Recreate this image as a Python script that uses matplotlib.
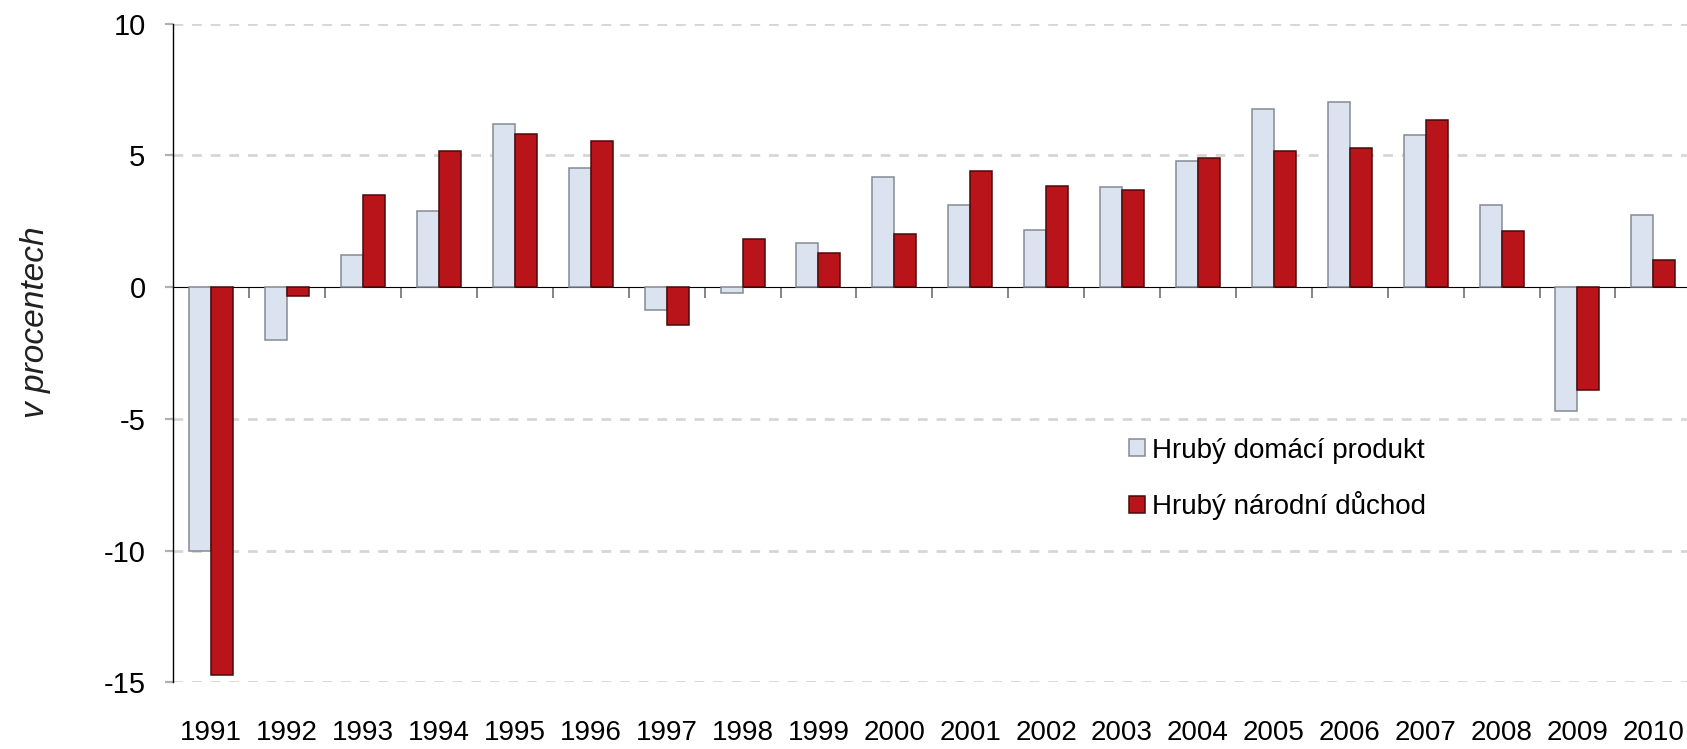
"""
HDP a HND, meziroční změny (v procentech).
"""

import matplotlib.pyplot as plt
import numpy as np

plt.rcParams['font.family'] = ['Liberation Sans', 'DejaVu Sans']

# Data.
years = [str(y) for y in range(1991, 2011)]
hdp = [-10.0, -2.0, 1.22, 2.90, 6.21, 4.53, -0.86, -0.23, 1.69, 4.19,
       3.11, 2.16, 3.79, 4.77, 6.77, 7.02, 5.76, 3.12, -4.71, 2.75]
hnd = [-14.71, -0.32, 3.48, 5.16, 5.82, 5.56, -1.43, 1.82, 1.28, 2.02,
       4.39, 3.85, 3.69, 4.92, 5.18, 5.28, 6.36, 2.12, -3.91, 1.04]
labels = ["Hrubý domácí produkt", "Hrubý národní důchod"]
yticks = [-15, -10, -5, 0, 5, 10]

W, H = 1687, 749

fig = plt.figure(figsize=(W / 100, H / 100), dpi=100)
ax = fig.add_axes([173.3 / W, 66.7 / H, 1518 / W, 658.6 / H])

x = np.arange(len(years))
bw = 0.29
ax.bar(x - bw / 2, hdp, bw, color="#dce3f0", edgecolor="#858a94",
       linewidth=1.1, label=labels[0], zorder=3)
ax.bar(x + bw / 2, hnd, bw, color="#b91419", edgecolor="#4a0a0a",
       linewidth=1.1, label=labels[1], zorder=3)

ax.set_xlim(-0.5, len(years) - 0.5)
ax.set_ylim(-15, 10)

# dashed gridlines (none at zero, the axis sits there)
ax.set_yticks(yticks)
ax.set_yticklabels([str(t) for t in yticks], fontsize=21)
ax.yaxis.grid(True, color="#d6d6d6", linewidth=2.0, linestyle=(0, (3.5, 3.2)), zorder=0)
ax.get_ygridlines()[yticks.index(0)].set_visible(False)
ax.tick_params(axis="y", direction="out", length=6, width=1.6, color="#b0b0b0", pad=14)

# year labels at the bottom, no marks
ax.set_xticks(x)
ax.set_xticklabels(years, fontsize=20)
ax.tick_params(axis="x", length=0, pad=27)

for s in ["top", "right", "bottom"]:
    ax.spines[s].set_visible(False)
ax.spines["left"].set_color("#000000")
ax.spines["left"].set_linewidth(1.0)

# zero axis with category boundary ticks
sec = ax.secondary_xaxis(0.6)
sec.spines["bottom"].set_color("#404040")
sec.spines["bottom"].set_linewidth(1.3)
sec.set_xticks(np.arange(0.5, len(years) - 1, 1.0))
sec.set_xticklabels([])
sec.xaxis.set_ticks_position("bottom")
sec.tick_params(axis="x", direction="out", length=8, width=1.2, color="#707070")

fig.text(36 / W, 1 - 322 / H, "v procentech", rotation=90, fontsize=24,
         style="italic", ha="center", va="center", color="#202020")

leg = fig.legend(loc="center left", bbox_to_anchor=(1129 / W, 1 - 479 / H),
                 frameon=False, fontsize=20, handlelength=0.57, handleheight=0.57,
                 handletextpad=0.25, labelspacing=1.0, borderpad=0,
                 borderaxespad=0)

fig.savefig("out.png", dpi=100, facecolor="white")
